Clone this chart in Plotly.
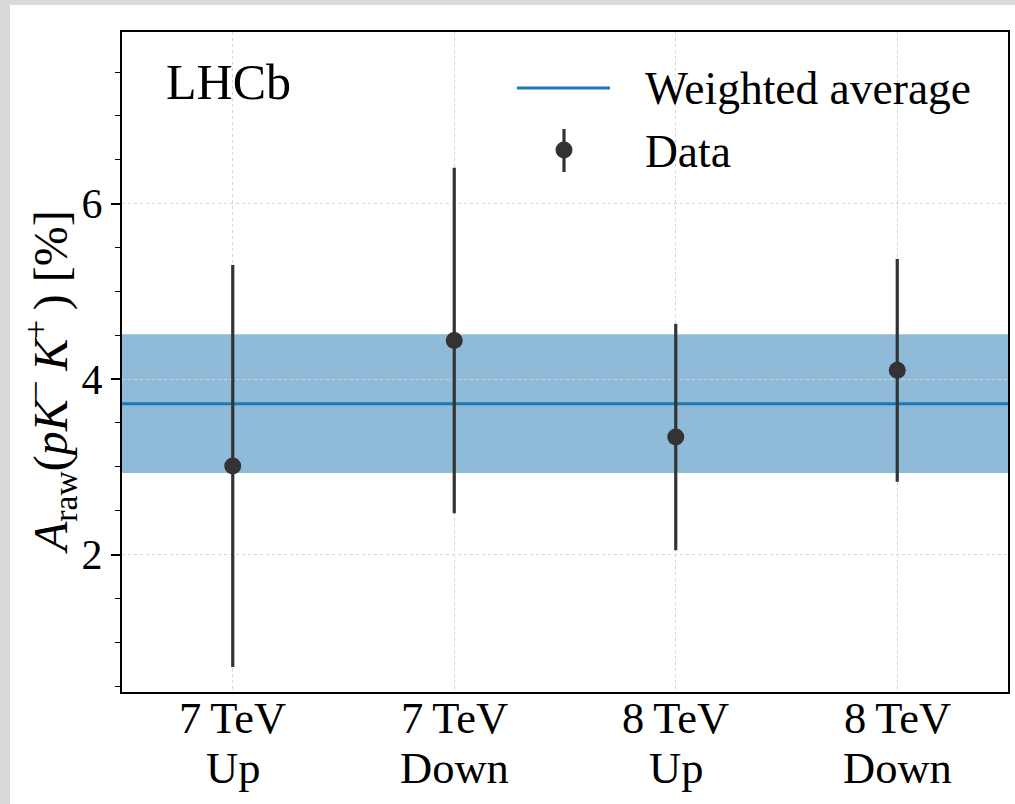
import plotly.graph_objects as go

# Raw asymmetry per data-taking period and magnet polarity
energies = ["7\u2009TeV", "7\u2009TeV", "8\u2009TeV", "8\u2009TeV"]
polarities = ["Up", "Down", "Up", "Down"]
a_raw = [3.01, 4.44, 3.34, 4.10]
a_raw_err = [2.29, 1.97, 1.29, 1.27]

# Weighted average and its uncertainty
avg_value = 3.72
avg_error = 0.79

x_pos = list(range(len(energies)))
x_range = [-0.5, len(energies) - 0.5]
y_range = [0.434, 7.956]

W, H = 1015, 804
M_L, M_R, M_T, M_B = 122, 7, 32, 112
PW, PH = W - M_L - M_R, H - M_T - M_B

SERIF = "Liberation Serif, Times New Roman, serif"
BLUE = "#1f77b4"
DARK = "#333333"


def px_x(px):
    return (px - M_L) / PW


def px_y(py):
    return (H - M_B - py) / PH


fig = go.Figure()

# Weighted average line
fig.add_trace(go.Scatter(
    x=x_range, y=[avg_value, avg_value], mode="lines",
    line=dict(color=BLUE, width=3), showlegend=False, hoverinfo="skip",
))

# Data points with error bars
fig.add_trace(go.Scatter(
    x=x_pos, y=a_raw, mode="markers",
    marker=dict(color=DARK, size=17),
    error_y=dict(type="data", array=a_raw_err, color=DARK, thickness=3.2, width=0),
    showlegend=False,
))

shapes = [
    # page frame
    dict(type="rect", xref="paper", yref="paper",
         x0=px_x(10), x1=px_x(W + 20), y0=px_y(H + 20), y1=px_y(5),
         fillcolor="white", line=dict(width=0), layer="below"),
    # uncertainty band of the weighted average
    dict(type="rect", xref="paper", yref="y",
         x0=0, x1=1, y0=avg_value - avg_error, y1=avg_value + avg_error,
         fillcolor="rgba(31,119,180,0.5)", line=dict(width=0), layer="below"),
    # legend: weighted average
    dict(type="line", xref="paper", yref="paper",
         x0=px_x(517), x1=px_x(610), y0=px_y(88), y1=px_y(88),
         line=dict(color=BLUE, width=3)),
    # legend: data
    dict(type="line", xref="paper", yref="paper",
         x0=px_x(564), x1=px_x(564), y0=px_y(129), y1=px_y(172),
         line=dict(color=DARK, width=3.2)),
    dict(type="circle", xref="paper", yref="paper",
         xsizemode="pixel", ysizemode="pixel",
         xanchor=px_x(564), yanchor=px_y(150),
         x0=-8.5, x1=8.5, y0=-8.5, y1=8.5,
         fillcolor=DARK, line=dict(width=0)),
]

annotations = [
    dict(text="LHCb", xref="paper", yref="paper", x=px_x(164), y=px_y(82),
         xanchor="left", yanchor="middle", showarrow=False,
         font=dict(family=SERIF, size=50, color="black")),
    dict(text="Weighted average", xref="paper", yref="paper", x=px_x(643), y=px_y(88),
         xanchor="left", yanchor="middle", showarrow=False,
         font=dict(family=SERIF, size=45.5, color="black")),
    dict(text="Data", xref="paper", yref="paper", x=px_x(643), y=px_y(152),
         xanchor="left", yanchor="middle", showarrow=False,
         font=dict(family=SERIF, size=45.5, color="black")),
    dict(text="<i>A</i><sub>raw</sub>(<i>pK</i><sup>\u2212</sup>\u2009<i>K</i><sup>+</sup>\u2009) [%]",
         xref="paper", yref="paper", x=px_x(50), y=px_y(382),
         xanchor="center", yanchor="middle", textangle=-90, showarrow=False,
         font=dict(family=SERIF, size=48, color="black")),
]

# Two-line category labels under each tick
for xi, energy, pol in zip(x_pos, energies, polarities):
    annotations.append(dict(
        text=energy, xref="x", yref="paper", x=xi, y=px_y(718),
        xanchor="center", yanchor="middle", showarrow=False,
        font=dict(family=SERIF, size=44.5, color="black")))
    annotations.append(dict(
        text=pol, xref="x", yref="paper", x=xi, y=px_y(768),
        xanchor="center", yanchor="middle", showarrow=False,
        font=dict(family=SERIF, size=44.5, color="black")))

fig.update_layout(
    width=W, height=H,
    margin=dict(l=M_L, r=M_R, t=M_T, b=M_B, pad=0),
    paper_bgcolor="#dadada",
    plot_bgcolor="white",
    shapes=shapes,
    annotations=annotations,
    showlegend=False,
    font=dict(family=SERIF, color="black"),
)

fig.update_xaxes(
    range=x_range, tickvals=x_pos, showticklabels=False, automargin=False,
    showline=True, linecolor="black", linewidth=2, mirror=True,
    ticks="", showgrid=True, gridcolor="#d5d5d5", griddash="dot", gridwidth=1.3,
    zeroline=False,
)

fig.update_yaxes(
    range=y_range, tick0=0, dtick=2, automargin=False,
    showline=True, linecolor="black", linewidth=2, mirror=True,
    ticks="outside", ticklen=9, tickwidth=1.5, tickcolor="black",
    minor=dict(dtick=0.5, tick0=0, ticks="outside", ticklen=5, tickwidth=1.2,
               tickcolor="black", showgrid=False),
    showgrid=True, gridcolor="#d5d5d5", griddash="dot", gridwidth=1.3,
    zeroline=False, tickfont=dict(family=SERIF, size=42, color="black"),
)

fig.write_html("out.html")
